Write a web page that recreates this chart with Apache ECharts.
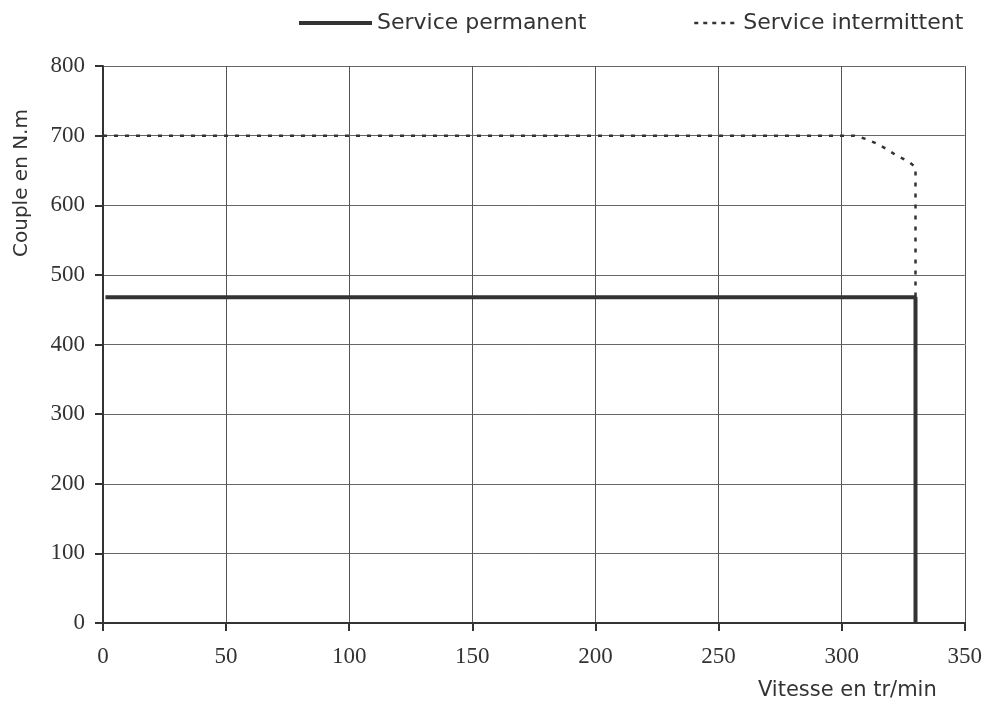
<!DOCTYPE html>
<html>
<head>
<meta charset="utf-8">
<script src="https://cdn.jsdelivr.net/npm/echarts@6/dist/echarts.min.js"></script>
<style>
html,body{margin:0;padding:0;background:#fff;}
#chart{width:985px;height:702px;}
</style>
</head>
<body>
<div id="chart"></div>
<script>
const seriesNames = ['Service permanent', 'Service intermittent'];
const permanentSpeed = [1, 330, 330];
const permanentTorque = [468, 468, 0];
const intermittentSpeed = [0, 305, 310, 314, 318.6, 322, 327, 330, 330];
const intermittentTorque = [700, 700, 695, 689, 680, 672, 663, 655, 468];
const xTicks = [0, 350, 50];
const yTicks = [0, 800, 100];

const permanentData = permanentSpeed.map((x, i) => [x, permanentTorque[i]]);
const intermittentData = intermittentSpeed.map((x, i) => [x, intermittentTorque[i]]);

const chart = echarts.init(document.getElementById('chart'));
const axisColor = '#333';
const serif = '"Liberation Serif", "Times New Roman", serif';
const sans = '"DejaVu Sans", "Liberation Sans", Arial, sans-serif';
chart.setOption({
  animation: false,
  backgroundColor: '#fff',
  grid: {left: 103, right: 20, top: 66, bottom: 79, containLabel: false},
  legend: [
    {
      data: [seriesNames[0]], left: 297, top: 12, padding: 0,
      itemWidth: 73, itemHeight: 14, itemGap: 0,
      itemStyle: {opacity: 0},
      lineStyle: {width: 4, color: '#333'},
      textStyle: {fontFamily: sans, fontSize: 22, color: '#333'}
    },
    {
      data: [seriesNames[1]], left: 693, top: 12, padding: 0,
      itemWidth: 44, itemHeight: 14, itemGap: 0,
      itemStyle: {opacity: 0},
      lineStyle: {width: 2.5, color: '#333', type: [4, 5]},
      textStyle: {fontFamily: sans, fontSize: 22, color: '#333'}
    }
  ],
  xAxis: {
    type: 'value', min: xTicks[0], max: xTicks[1], interval: xTicks[2],
    name: 'Vitesse en tr/min', nameLocation: 'end', nameGap: -28,
    nameTextStyle: {fontFamily: sans, fontSize: 21, color: '#333', align: 'right', verticalAlign: 'top', padding: [57,0,0,0]},
    axisLine: {show: true, lineStyle: {color: axisColor, width: 2}},
    axisTick: {show: true, length: 8, lineStyle: {color: axisColor, width: 2}},
    axisLabel: {fontFamily: serif, fontSize: 23, color: '#333', margin: 22},
    splitLine: {show: true, lineStyle: {color: '#555', width: 1}}
  },
  yAxis: {
    type: 'value', min: yTicks[0], max: yTicks[1], interval: yTicks[2],
    axisLine: {show: true, lineStyle: {color: axisColor, width: 2}},
    axisTick: {show: true, length: 8, lineStyle: {color: axisColor, width: 2}},
    axisLabel: {fontFamily: serif, fontSize: 23, color: '#333', margin: 18},
    splitLine: {show: true, lineStyle: {color: '#666', width: 1}}
  },
  graphic: [{
    type: 'text', x: 22, y: 183, rotation: Math.PI / 2,
    style: {text: 'Couple en N.m', fontFamily: sans, fontSize: 20, fill: '#333', align: 'center', verticalAlign: 'middle'}
  }],
  series: [
    {
      name: seriesNames[1], type: 'line', data: intermittentData,
      symbol: 'none', z: 3,
      lineStyle: {color: '#333', width: 2.5, type: [4, 7]},
      itemStyle: {color: '#333'}
    },
    {
      name: seriesNames[0], type: 'line', data: permanentData,
      symbol: 'none', z: 4,
      lineStyle: {color: '#333', width: 4, type: 'solid'},
      itemStyle: {color: '#333'}
    }
  ]
});
</script>
</body>
</html>
